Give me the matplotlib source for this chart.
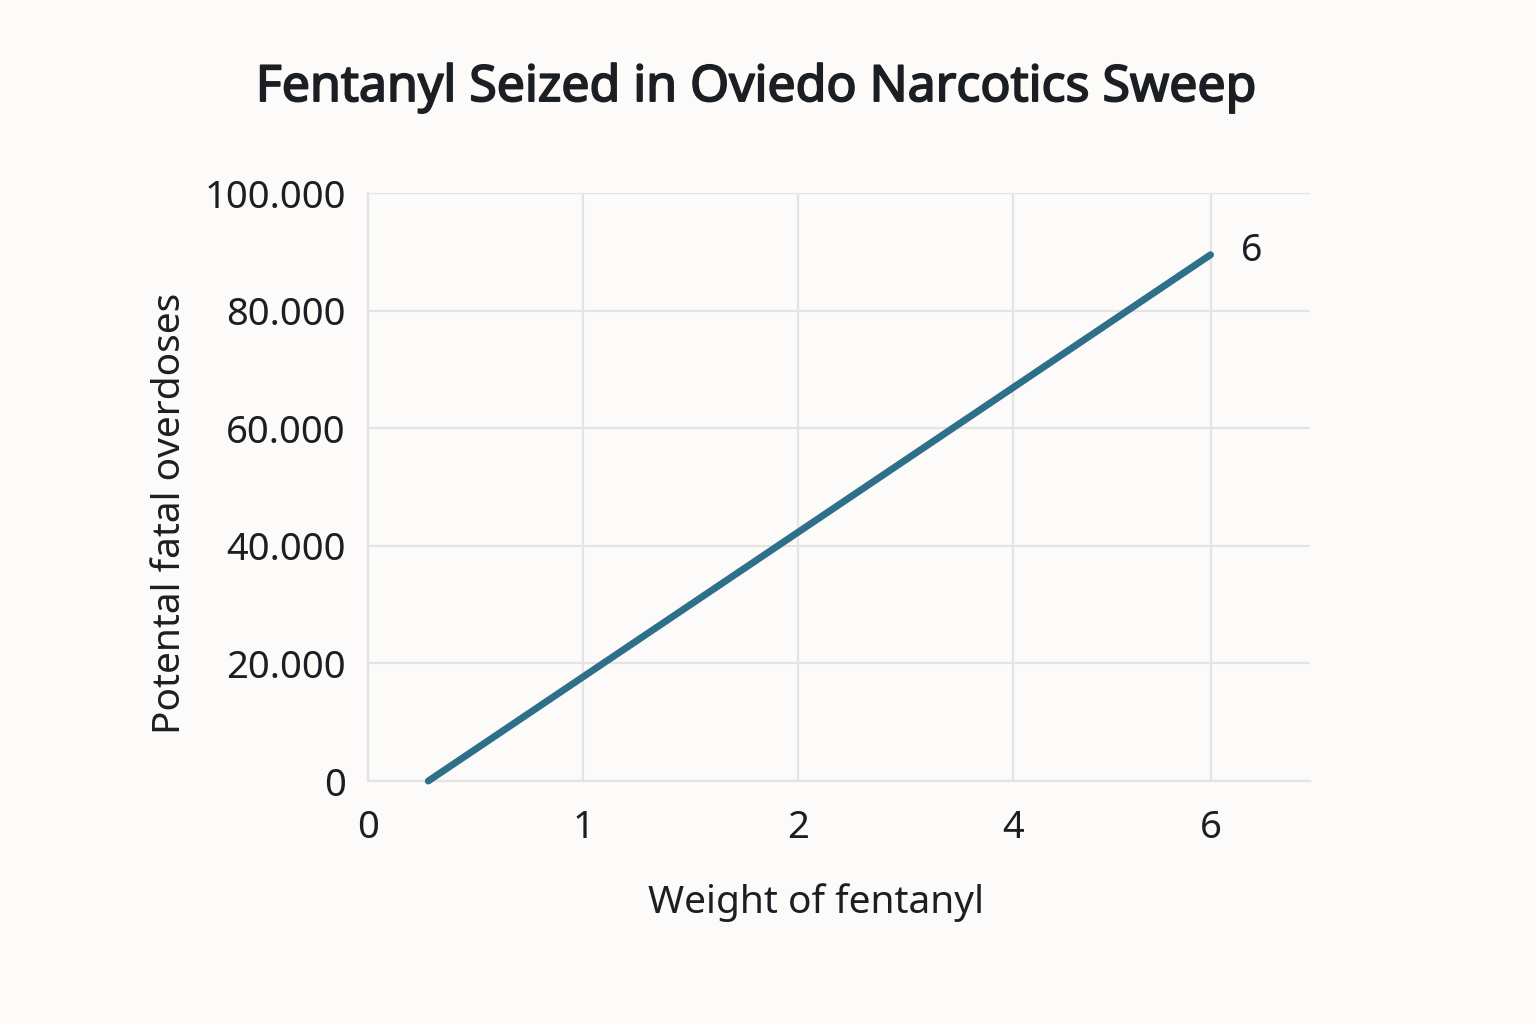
import numpy as np
import matplotlib
matplotlib.use("Agg")
import matplotlib.pyplot as plt
import matplotlib.transforms as mtrans
import matplotlib.patheffects as pe
from matplotlib.ticker import FuncFormatter

plt.rcParams['font.family'] = ['Noto Sans', 'DejaVu Sans']

# Data
weight = [0.28, 6]
overdoses = [0, 89500]
x_ticks = [0, 1, 2, 4, 6]
x_tick_labels = ['0', '1', '2', '4', '6']
y_ticks = [0, 20000, 40000, 60000, 80000, 100000]
end_label = '6'

title = 'Fentanyl Seized in Oviedo Narcotics Sweep'
xlabel = 'Weight of fentanyl'
ylabel = 'Potental fatal overdoses'

bg = '#fcfbf9'
line_color = '#2e6f8a'
text_color = '#1b1f23'
grid_color = '#e4e4e4'

# uneven axis (as drawn in the reference)
_w = [0, 1, 2, 4, 6, 8]
_p = [0, 1, 2, 3, 3.916, 4.832]
fwd = lambda x: np.interp(x, _w, _p)
inv = lambda p: np.interp(p, _p, _w)

fig = plt.figure(figsize=(15.36, 10.24), dpi=100, facecolor=bg)
ax = fig.add_axes([0.2396, 0.2373, 0.6133, 0.5742], facecolor=bg)
ax.set_xscale('function', functions=(fwd, inv))
ax.set_xlim(0, 7.01)
ax.set_ylim(0, 100000)

ax.plot(weight, overdoses, color=line_color, lw=5.0, solid_capstyle='round',
        zorder=3, clip_on=False)
ax.text(weight[-1], overdoses[-1] + 600, end_label,
        transform=ax.transData + mtrans.ScaledTranslation(0.3, 0.0, fig.dpi_scale_trans),
        fontsize=27, color=text_color, ha='left', va='center')

ax.set_xticks(x_ticks)
ax.set_xticklabels(x_tick_labels)
ax.set_yticks(y_ticks)
ax.yaxis.set_major_formatter(FuncFormatter(lambda v, p: f"{int(v):,}".replace(',', '.')))
ax.tick_params(axis='both', length=0, labelsize=27.5, colors=text_color)
ax.tick_params(axis='x', pad=20)
ax.tick_params(axis='y', pad=16)

ax.grid(True, color=grid_color, lw=1.6)
ax.set_axisbelow(True)
for s in ['top', 'right']:
    ax.spines[s].set_visible(False)
for s in ['left', 'bottom']:
    ax.spines[s].set_color(grid_color)
    ax.spines[s].set_linewidth(1.6)

fig.text(0.492, 0.914, title, ha='center', va='center', fontsize=36,
         color=text_color,
         path_effects=[pe.withStroke(linewidth=1.3, foreground=text_color)])
fig.text(0.531, 0.119, xlabel, ha='center', va='center', fontsize=28, color=text_color)
fig.text(0.111, 0.499, ylabel, ha='center', va='center', rotation=90, fontsize=28,
         color=text_color)

fig.savefig('out.png', dpi=100, facecolor=bg)
